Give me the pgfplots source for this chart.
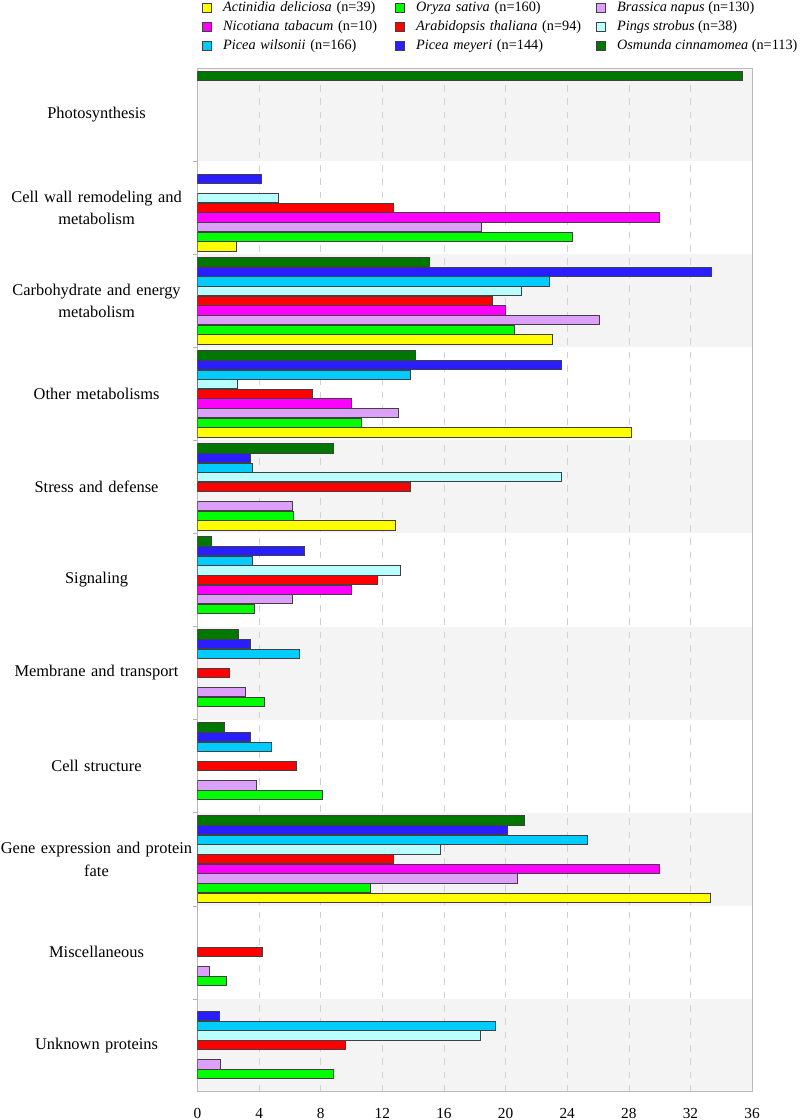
\documentclass[border=0pt]{standalone}
\usepackage{pgfplots}
\pgfplotsset{compat=1.18}
\usepackage{fontspec}
\setmainfont{Liberation Serif}

\definecolor{cAct}{RGB}{255,255,0}
\definecolor{cOry}{RGB}{0,255,0}
\definecolor{cBra}{RGB}{221,160,250}
\definecolor{cNic}{RGB}{255,0,255}
\definecolor{cAra}{RGB}{255,0,0}
\definecolor{cPin}{RGB}{185,255,255}
\definecolor{cWil}{RGB}{0,204,255}
\definecolor{cMey}{RGB}{40,30,255}
\definecolor{cOsm}{RGB}{0,120,0}
\definecolor{band}{RGB}{244,244,244}

\begin{document}
\begin{tikzpicture}
\begin{axis}[
    name=ax, at={(0,0)}, anchor=south west,
    scale only axis, width=415.9pt, height=767.55pt,
    set layers,
    xbar=0.25pt, bar width=0.1,
    xmin=0, xmax=36, ymin=-0.5, ymax=10.5,
    xtick={0,4,...,36},
    ytick={0,...,10},
    yticklabels={Unknown proteins, Miscellaneous, {Gene expression and protein\\fate},
        Cell structure, Membrane and transport, Signaling, Stress and defense,
        Other metabolisms, {Carbohydrate and energy\\metabolism},
        {Cell wall remodeling and\\metabolism}, Photosynthesis},
    minor ytick={0.5,1.5,...,9.5},
    ytick pos=left,
    major tick length=0pt, minor tick length=3pt,
    minor tick style={gray!60},
    axis line style={gray!55, line width=0.8pt},
    xmajorgrids, grid style={gray!35, dash pattern=on 5pt off 5pt},
    /pgf/number format/assume math mode=true,
    xticklabel style={font=\fontsize{11.5}{13}\selectfont, yshift=-9pt},
    yticklabel style={font=\fontsize{12.3}{17}\selectfont, text width=148pt, align=center, inner sep=0pt, xshift=-1.5pt},
    legend columns=3, legend cell align=left,
    legend style={at={(0.0082,1.0685)}, anchor=north west, draw=none, fill=none,
        inner sep=0pt, row sep=0pt, column sep=0pt,
        font=\fontsize{10.7}{13}\selectfont,
        nodes={inner sep=0pt, inner ysep=1.35pt, text height=8.5pt, text depth=3pt},
        /tikz/column 2/.style={text width=129pt},
        /tikz/column 4/.style={text width=135pt}},
    every axis plot post/.append style={draw=black!75, line width=0.7pt,
        legend image code/.code={\draw[##1] (0pt,-3.25pt) rectangle (6.5pt,3.25pt); \path (15pt,0pt);}},
]
\begin{pgfonlayer}{axis background}
\fill[band] (axis cs:0,9.5) rectangle (axis cs:36,10.5);
\fill[band] (axis cs:0,7.5) rectangle (axis cs:36,8.5);
\fill[band] (axis cs:0,5.5) rectangle (axis cs:36,6.5);
\fill[band] (axis cs:0,3.5) rectangle (axis cs:36,4.5);
\fill[band] (axis cs:0,1.5) rectangle (axis cs:36,2.5);
\fill[band] (axis cs:0,-0.5) rectangle (axis cs:36,0.5);
\end{pgfonlayer}

% Actinidia deliciosa
\addplot[fill=cAct] coordinates {(2.55,9) (23.05,8) (28.2,7) (12.85,6) (33.3,2)};
% Oryza sativa
\addplot[fill=cOry] coordinates {(24.35,9) (20.6,8) (10.65,7) (6.2,6) (3.7,5) (4.35,4) (8.1,3) (11.25,2) (1.85,1) (8.8,0)};
% Brassica napus
\addplot[fill=cBra] coordinates {(18.45,9) (26.1,8) (13.05,7) (6.15,6) (6.15,5) (3.1,4) (3.85,3) (20.75,2) (0.75,1) (1.5,0)};
% Nicotiana tabacum
\addplot[fill=cNic] coordinates {(30,9) (20,8) (10,7) (10,5) (30,2)};
% Arabidopsis thaliana
\addplot[fill=cAra] coordinates {(12.75,9) (19.15,8) (7.45,7) (13.85,6) (11.7,5) (2.1,4) (6.4,3) (12.75,2) (4.25,1) (9.6,0)};
% Pings strobus
\addplot[fill=cPin] coordinates {(5.25,9) (21.05,8) (2.6,7) (23.65,6) (13.15,5) (15.8,2) (18.4,0)};
% Picea wilsonii
\addplot[fill=cWil] coordinates {(22.85,8) (13.85,7) (3.6,6) (3.6,5) (6.65,4) (4.8,3) (25.3,2) (19.35,0)};
% Picea meyeri
\addplot[fill=cMey] coordinates {(4.15,9) (33.35,8) (23.6,7) (3.45,6) (6.95,5) (3.45,4) (3.45,3) (20.15,2) (1.4,0)};
% Osmunda cinnamomea
\addplot[fill=cOsm] coordinates {(35.4,10) (15.05,8) (14.15,7) (8.85,6) (0.9,5) (2.65,4) (1.75,3) (21.25,2)};

\legend{\textit{Actinidia deliciosa} (n=39), \textit{Oryza sativa} (n=160), \textit{Brassica napus} (n=130),
        \textit{Nicotiana tabacum} (n=10), \textit{Arabidopsis thaliana} (n=94), \textit{Pings strobus} (n=38),
        \textit{Picea wilsonii} (n=166), \textit{Picea meyeri} (n=144), \textit{Osmunda cinnamomea} (n=113)}
\end{axis}
\pgfresetboundingbox
\path[use as bounding box] (-148.1pt,-21.2pt) rectangle (451.9pt,818.75pt);
\end{tikzpicture}
\end{document}
